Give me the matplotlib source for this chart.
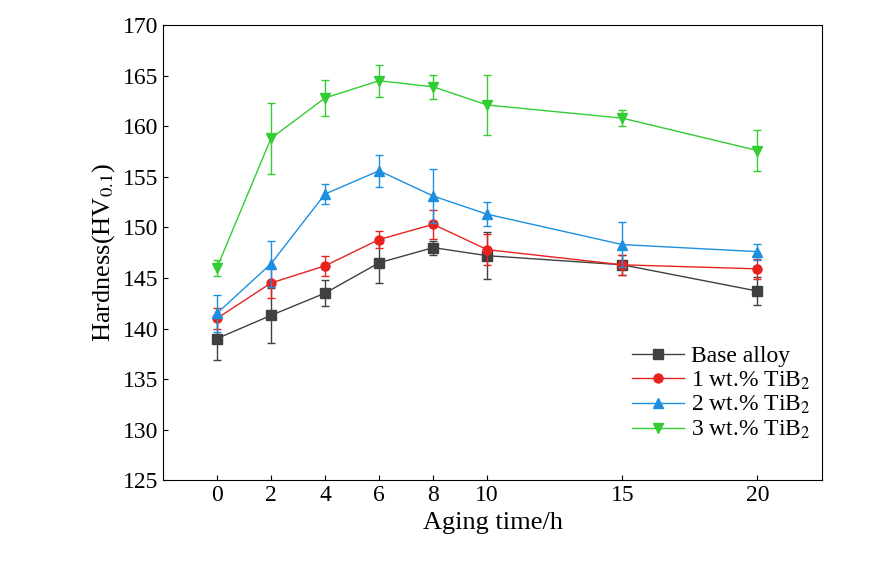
import matplotlib
matplotlib.use('Agg')
import matplotlib.pyplot as plt

time_h = [0, 2, 4, 6, 8, 10, 15, 20]

base = [139.0, 141.3, 143.5, 146.5, 148.0, 147.2, 146.3, 143.7]
base_err = [2.1, 2.7, 1.3, 2.0, 0.7, 2.3, 1.0, 1.4]
tib1 = [141.0, 144.5, 146.2, 148.8, 150.3, 147.8, 146.3, 145.9]
tib1_err = [1.0, 1.5, 1.0, 0.8, 1.4, 1.5, 1.0, 1.0]
tib2 = [141.5, 146.4, 153.3, 155.6, 153.1, 151.3, 148.3, 147.6]
tib2_err = [1.8, 2.3, 1.0, 1.6, 2.7, 1.2, 2.2, 0.8]
tib3 = [146.0, 158.8, 162.8, 164.5, 163.9, 162.1, 160.8, 157.6]
tib3_err = [0.8, 3.5, 1.8, 1.6, 1.2, 3.0, 0.8, 2.0]

plt.rcParams['font.family'] = ['Liberation Serif', 'DejaVu Serif']
plt.rcParams['mathtext.fontset'] = 'stix'

fig = plt.figure(figsize=(8.9, 5.71), dpi=100)
ax = fig.add_axes([0.183, 0.159, 0.741, 0.797])

series = [
    (base, base_err, '#404040', 's', 'Base alloy'),
    (tib1, tib1_err, '#e8231f', 'o', '1 wt.% TiB$_2$'),
    (tib2, tib2_err, '#1c8fe0', '^', '2 wt.% TiB$_2$'),
    (tib3, tib3_err, '#33cc33', 'v', '3 wt.% TiB$_2$'),
]
for vals, err, col, mk, lab in series:
    ax.errorbar(time_h, vals, yerr=err, color=col, fmt='none',
                elinewidth=1, capsize=3)
    ax.plot(time_h, vals, color=col, marker=mk, markersize=6.5,
            linewidth=1, label=lab)

ax.set_xlim(-2, 22.4)
ax.set_ylim(125, 170)
ax.set_xticks(time_h)
ax.set_yticks(range(125, 171, 5))
ax.tick_params(labelsize=17, direction='in')
ax.set_xlabel('Aging time/h', fontsize=19)
ax.set_ylabel('Hardness(HV$_{0.1}$)', fontsize=19)
ax.legend(loc='lower right', bbox_to_anchor=(1.0, 0.06), frameon=False,
          fontsize=17, handlelength=2.2, handletextpad=0.3, labelspacing=0.1,
          borderaxespad=0.1)

fig.savefig('out.png')
